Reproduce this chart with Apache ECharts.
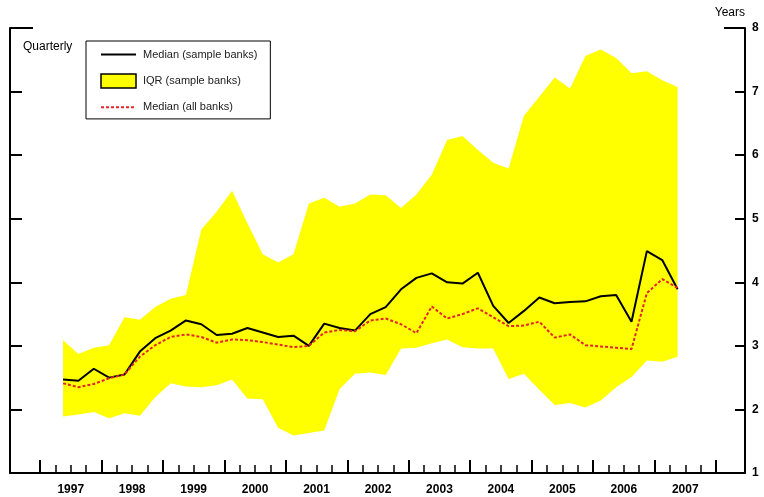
<!DOCTYPE html>
<html>
<head>
<meta charset="utf-8">
<title>Median and IQR, quarterly</title>
<script src="https://cdn.jsdelivr.net/npm/echarts@6/dist/echarts.min.js"></script>
<style>
  html, body { margin: 0; padding: 0; background: #fff; }
  #chart { width: 764px; height: 497px; }
</style>
</head>
<body>
<div id="chart"></div>
<script>
// Calendar years shown on the horizontal axis
const years = ['1997', '1998', '1999', '2000', '2001', '2002', '2003', '2004', '2005', '2006', '2007'];
// Quarterly observations run from 1997 Q2 to 2007 Q2
const firstQuarterIndex = 1;

// Median of the sample banks (years)
const medianSample = [2.47, 2.45, 2.64, 2.50, 2.55, 2.91, 3.12, 3.24, 3.40, 3.34,
  3.17, 3.19, 3.28, 3.21, 3.14, 3.16, 3.00, 3.35, 3.28, 3.24,
  3.50, 3.61, 3.89, 4.07, 4.14, 4.00, 3.98, 4.15, 3.63, 3.36,
  3.55, 3.76, 3.67, 3.69, 3.70, 3.78, 3.80, 3.38, 4.49, 4.35,
  3.89];
// Interquartile range of the sample banks: 25th and 75th percentiles
const iqrLow = [1.89, 1.92, 1.96, 1.86, 1.94, 1.90, 2.19, 2.41, 2.36, 2.35,
  2.38, 2.47, 2.17, 2.16, 1.71, 1.59, 1.63, 1.67, 2.32, 2.56,
  2.58, 2.54, 2.96, 2.97, 3.04, 3.10, 2.98, 2.96, 2.96, 2.48,
  2.56, 2.31, 2.07, 2.10, 2.03, 2.14, 2.35, 2.51, 2.77, 2.75,
  2.83];
const iqrHigh = [3.09, 2.87, 2.97, 3.01, 3.45, 3.41, 3.61, 3.74, 3.80, 4.83,
  5.11, 5.44, 4.93, 4.44, 4.31, 4.44, 5.24, 5.33, 5.19, 5.24,
  5.38, 5.37, 5.17, 5.38, 5.69, 6.24, 6.30, 6.08, 5.88, 5.79,
  6.62, 6.92, 7.22, 7.05, 7.56, 7.66, 7.53, 7.29, 7.32, 7.18,
  7.07];
// Median of all banks (years)
const medianAll = [2.41, 2.35, 2.40, 2.49, 2.55, 2.83, 3.01, 3.14, 3.18, 3.14,
  3.05, 3.10, 3.09, 3.06, 3.02, 2.98, 3.00, 3.21, 3.25, 3.23,
  3.40, 3.43, 3.34, 3.20, 3.62, 3.43, 3.50, 3.59, 3.45, 3.31,
  3.32, 3.38, 3.13, 3.18, 3.01, 2.99, 2.97, 2.95, 3.83, 4.05,
  3.91];
// Right-hand axis range
const yMin = 1, yMax = 8, yStep = 1;

// One category per quarter across the full span of years
const quarters = [];
years.forEach(y => { for (let q = 1; q <= 4; q++) quarters.push(y + 'Q' + q); });

// Place a series onto the quarterly axis, leaving empty quarters as gaps
function onQuarters(values) {
  const out = quarters.map(() => null);
  values.forEach((v, i) => { out[firstQuarterIndex + i] = v; });
  return out;
}
const bandBase = onQuarters(iqrLow);
const bandWidth = onQuarters(iqrHigh.map((v, i) => +(v - iqrLow[i]).toFixed(2)));

const FONT = 'Liberation Sans, Arial, sans-serif';
const BLACK = '#000';
const RED = '#e3262c';

const chart = echarts.init(document.getElementById('chart'), null, { renderer: 'canvas' });

chart.setOption({
  animation: false,
  backgroundColor: '#fff',
  textStyle: { fontFamily: FONT, color: BLACK },
  title: {
    text: 'Quarterly',
    left: 18, top: 36,
    textStyle: { fontFamily: FONT, fontSize: 12, fontWeight: 'normal', color: BLACK }
  },
  legend: {
    orient: 'vertical',
    left: 86, top: 41,
    padding: [8, 13, 6, 14],
    itemWidth: 35, itemHeight: 14, itemGap: 13,
    borderColor: BLACK, borderWidth: 1,
    selectedMode: false,
    textStyle: { fontFamily: FONT, fontSize: 11, color: '#222', padding: [0, 0, 0, 2] },
    data: [
      { name: 'Median (sample banks)', itemStyle: { opacity: 0 } },
      { name: 'IQR (sample banks)', icon: 'rect',
        itemStyle: { color: '#ffff00', borderColor: BLACK, borderWidth: 1.5 } },
      { name: 'Median (all banks)', itemStyle: { opacity: 0 } }
    ]
  },
  grid: [
    // outer frame carrying the axis lines
    { left: 10, right: 19, top: 28, bottom: 24 },
    // inner span 1997–2007 carrying the data and the date ticks
    { left: 40, right: 48, top: 28, bottom: 24 }
  ],
  xAxis: [
    {
      gridIndex: 0, type: 'value', position: 'bottom', min: 0, max: 1,
      axisLine: { show: true, onZero: false, lineStyle: { color: BLACK, width: 2 } },
      axisTick: { show: false }, axisLabel: { show: false }, splitLine: { show: false }
    },
    {
      gridIndex: 1, type: 'category', position: 'bottom', data: quarters, boundaryGap: true,
      axisLine: { show: false, onZero: false },
      axisTick: { show: true, inside: true, interval: 0, length: 8, lineStyle: { color: BLACK, width: 1.5 } },
      axisLabel: { show: false }, splitLine: { show: false }
    },
    {
      gridIndex: 1, type: 'category', position: 'bottom', data: years, boundaryGap: true,
      axisLine: { show: false, onZero: false },
      axisTick: { show: true, inside: true, interval: 0, length: 13, lineStyle: { color: BLACK, width: 2 } },
      axisLabel: { show: true, interval: 0, margin: 11, fontFamily: FONT, fontSize: 12, fontWeight: 'bold', color: BLACK },
      splitLine: { show: false }
    }
  ],
  yAxis: [
    {
      gridIndex: 0, type: 'value', position: 'left', min: yMin, max: yMax, interval: yStep,
      axisLine: { show: true, lineStyle: { color: BLACK, width: 2 } },
      axisTick: { show: true, inside: true, length: 12, lineStyle: { color: BLACK, width: 2 } },
      axisLabel: { show: false }, splitLine: { show: false }
    },
    {
      gridIndex: 0, type: 'value', position: 'right', min: yMin, max: yMax, interval: yStep,
      name: 'Years', nameLocation: 'end', nameGap: 15,
      nameTextStyle: { fontFamily: FONT, fontSize: 12, color: BLACK, align: 'right', verticalAlign: 'middle' },
      axisLine: { show: true, lineStyle: { color: BLACK, width: 2 } },
      axisTick: { show: true, inside: true, length: 10, lineStyle: { color: BLACK, width: 2 } },
      axisLabel: { show: true, margin: 7, fontFamily: FONT, fontSize: 12, fontWeight: 'bold', color: BLACK },
      splitLine: { show: false }
    },
    // longer end ticks at the top of both vertical axes
    {
      gridIndex: 0, type: 'category', position: 'left', data: [String(yMin), String(yMax)], boundaryGap: false,
      axisLine: { show: false },
      axisTick: { show: true, inside: true, interval: 0, length: 23, lineStyle: { color: BLACK, width: 2 } },
      axisLabel: { show: false }, splitLine: { show: false }
    },
    {
      gridIndex: 0, type: 'category', position: 'right', data: [String(yMin), String(yMax)], boundaryGap: false,
      axisLine: { show: false },
      axisTick: { show: true, inside: true, interval: 0, length: 21, lineStyle: { color: BLACK, width: 2 } },
      axisLabel: { show: false }, splitLine: { show: false }
    },
    // value scale for the data, same range as the right axis
    {
      gridIndex: 1, type: 'value', min: yMin, max: yMax, interval: yStep, show: false
    }
  ],
  series: [
    {
      name: 'IQR low', type: 'line', xAxisIndex: 1, yAxisIndex: 4,
      stack: 'iqr', data: bandBase, symbol: 'none', silent: true,
      lineStyle: { width: 0, opacity: 0 }, z: 1
    },
    {
      name: 'IQR (sample banks)', type: 'line', xAxisIndex: 1, yAxisIndex: 4,
      stack: 'iqr', data: bandWidth, symbol: 'none', silent: true,
      itemStyle: { color: '#ffff00' },
      lineStyle: { width: 0, opacity: 0 },
      areaStyle: { color: '#ffff00', opacity: 1 }, z: 1
    },
    {
      name: 'Median (sample banks)', type: 'line', xAxisIndex: 1, yAxisIndex: 4,
      data: onQuarters(medianSample), symbol: 'none', silent: true,
      itemStyle: { color: BLACK },
      lineStyle: { color: BLACK, width: 2 }, z: 3
    },
    {
      name: 'Median (all banks)', type: 'line', xAxisIndex: 1, yAxisIndex: 4,
      data: onQuarters(medianAll), symbol: 'none', silent: true,
      itemStyle: { color: RED },
      lineStyle: { color: RED, width: 2, type: [3, 2] }, z: 4
    }
  ]
});
</script>
</body>
</html>
